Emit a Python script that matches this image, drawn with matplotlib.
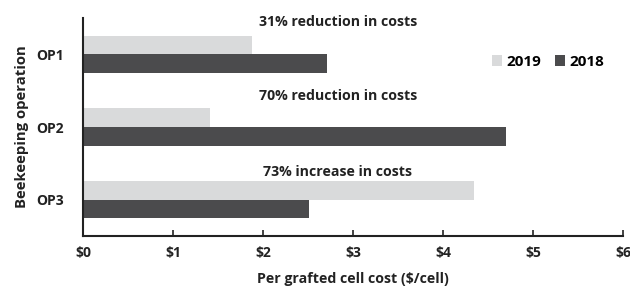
import numpy as np
import matplotlib.pyplot as plt

# Daten
operations = ['OP1', 'OP2', 'OP3']
cost_2019 = [1.88, 1.41, 4.34]
cost_2018 = [2.71, 4.70, 2.51]
notes = ['31% reduction in costs', '70% reduction in costs', '73% increase in costs']
xticks = [0, 1, 2, 3, 4, 5, 6]
xticklabels = ['$0', '$1', '$2', '$3', '$4', '$5', '$6']

plt.rcParams['font.family'] = ['Open Sans', 'DejaVu Sans']
plt.rcParams['font.weight'] = 'bold'

fig = plt.figure(figsize=(6.3, 2.89), dpi=100)
ax = fig.add_axes([0.1317, 0.1834, 0.8572, 0.7543])

y = np.arange(len(operations))
h = 0.255
b19 = ax.barh(y - h / 2, cost_2019, height=h, color='#d9dadb', label='2019')
b18 = ax.barh(y + h / 2, cost_2018, height=h, color='#4b4b4d', label='2018')

# Anmerkungen über den Balken
note_y = [-0.445, 0.573, 1.62]
for ny, txt in zip(note_y, notes):
    ax.text(2.83, ny, txt, ha='center', va='center', fontsize=10.2,
            fontweight='bold', color='#222222')

ax.set_xlim(0, 6)
ax.set_ylim(2.5, -0.5)
ax.set_xticks(xticks)
ax.set_xticklabels(xticklabels)
ax.set_yticks(y)
ax.set_yticklabels(operations)
ax.tick_params(axis='x', direction='in', length=4, width=1.2, color='#222222',
               labelsize=10, pad=7, labelcolor='#222222')
ax.tick_params(axis='y', length=0, labelsize=10, pad=14, labelcolor='#222222')

for s in ['top', 'right']:
    ax.spines[s].set_visible(False)
for s in ['left', 'bottom']:
    ax.spines[s].set_linewidth(1.5)
    ax.spines[s].set_color('#222222')

ax.set_xlabel('Per grafted cell cost ($/cell)', fontsize=10.2, fontweight='bold',
              color='#222222', labelpad=9)
ax.set_ylabel('Beekeeping operation', fontsize=10.7, fontweight='bold',
              color='#222222', labelpad=5)

ax.legend(handles=[b19, b18], loc='center', bbox_to_anchor=(0.862, 0.798),
          ncol=2, frameon=False, fontsize=11, handlelength=0.6,
          handleheight=0.75, handletextpad=0.35, columnspacing=0.9)

fig.savefig('out.png', dpi=100)
